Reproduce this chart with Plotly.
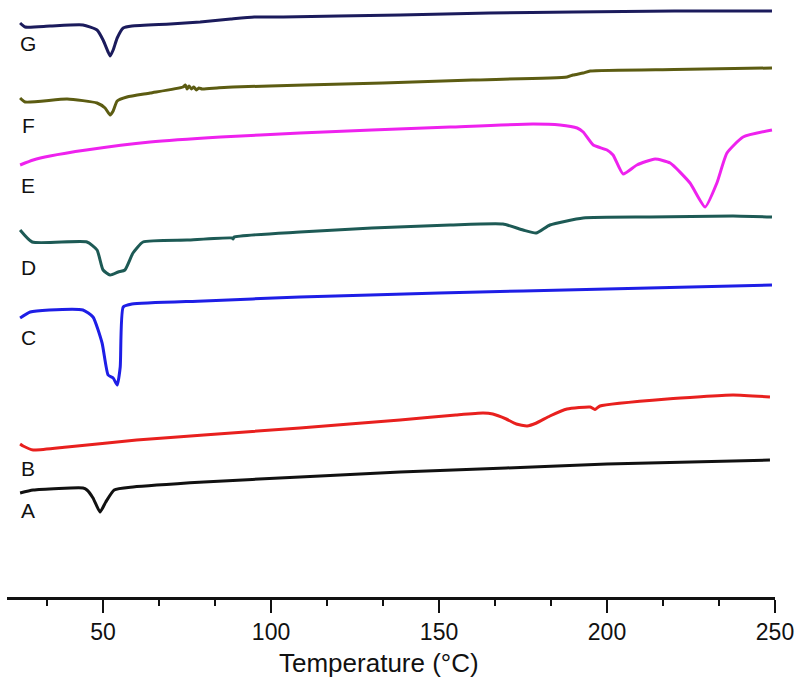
import plotly.graph_objects as go

# DSC traces, temperature in degC, heat flow in arbitrary units (offset per sample)
a_temp = [25.3, 29.2, 44.0, 45.2, 47.0, 49.1, 50.8, 53.3, 58.9, 80.0, 108.6, 138.4,
          170.0, 200.0, 248.5]
a_flow = [104, 107, 109, 107, 99, 85, 95, 107, 110, 115, 120, 125,
          129, 133, 137]

b_temp = [25.3, 26.2, 29.2, 39.3, 60.0, 80.0, 108.6, 138.4, 155.0, 163.1, 166.0, 170.0,
          173.0, 176.2, 179.0, 183.0, 188.1, 195.0, 196.4, 197.9, 217.9, 237.5, 248.5]
b_flow = [153, 151, 147, 150, 157, 162, 169, 177, 182, 184, 183, 178,
          173, 171, 174, 181, 188, 190, 187.5, 191, 198, 202, 200]

c_temp = [25.3, 28.3, 34.0, 44.0, 47.0, 49.7, 51.5, 53.0, 54.2, 55.1, 56.0, 58.6,
          80.0, 108.6, 150.0, 200.0, 249.1]
c_flow = [279, 285, 287, 287, 280, 254, 222, 219, 212, 230, 290, 293,
          296, 300, 304, 308, 312]

d_temp = [25.3, 28.9, 45.2, 48.2, 50.0, 52.1, 54.5, 56.5, 58.9, 61.9, 75.0, 88.4, 88.7,
          89.0, 108.6, 130.0, 153.3, 169.0, 175.0, 178.9, 183.0, 192.9, 212.8, 237.5, 249.1]
d_flow = [367, 355, 355, 347, 327, 322, 325, 327, 344, 355, 357, 359, 358,
          360, 365, 369, 372, 373, 367, 364, 372, 379, 380, 381, 380]

e_temp = [25.3, 29.2, 34.2, 45.0, 64.0, 85.0, 108.6, 130.0, 153.3, 178.0, 186.0, 191.1,
          192.9, 195.9, 200.0, 201.8, 204.8, 208.9, 214.3, 218.8, 224.7, 229.2, 232.7,
          235.7, 240.5, 249.1]
e_flow = [432, 437, 441, 447, 455, 460, 464, 467, 470, 473, 472, 469,
          465, 452, 447, 442, 423, 432, 438, 434, 414, 390, 414,
          444, 460, 467]

f_temp = [25.3, 26.8, 39.3, 48.2, 50.6, 52.1, 53.0, 54.2, 57.1, 64.0, 73.8, 74.5,
          75.0, 75.6, 76.3, 77.0, 77.8, 78.5, 79.5, 83.9, 88.7, 110.0, 133.3, 160.0,
          188.1, 189.9, 192.9, 195.0, 220.0, 249.1]
f_flow = [499, 495, 498, 494, 489, 482, 486, 496, 500, 504, 510, 512,
          508, 511, 508, 510, 507, 509, 508, 509, 510, 512, 514, 517,
          520, 522, 524, 526, 527.5, 529]

g_temp = [25.3, 26.8, 34.2, 44.0, 48.2, 50.0, 51.5, 52.1, 53.0, 54.2, 56.0, 58.6,
          70.0, 78.9, 88.0, 95.0, 103.6, 120.0, 138.4, 165.0, 189.9, 220.0, 249.1]
g_flow = [574, 570, 571, 572, 567, 557, 545, 541, 547, 559, 569, 571,
          573, 575, 578, 580, 580, 581, 582, 584, 585, 586, 586]

names = ["A", "B", "C", "D", "E", "F", "G"]
temps = [a_temp, b_temp, c_temp, d_temp, e_temp, f_temp, g_temp]
flows = [a_flow, b_flow, c_flow, d_flow, e_flow, f_flow, g_flow]
colors = ["#111111", "#e8201e", "#1e1ee6", "#1d5a55", "#ee22ee", "#5c5c12", "#1b1b5c"]
label_y = [87, 129, 260, 330, 412, 472, 554]

fig = go.Figure()
for name, t, f, c in zip(names, temps, flows, colors):
    fig.add_trace(go.Scatter(x=t, y=f, mode="lines", name=name,
                             line=dict(color=c, width=3, shape="spline", smoothing=0.5)))

for name, ly in zip(names, label_y):
    fig.add_annotation(x=27.7, y=ly, text=name, showarrow=False, xanchor="center",
                       yanchor="middle", font=dict(size=21, color="#111111"))

fig.add_annotation(x=0.484, y=-0.11, xref="paper", yref="paper", text="Temperature (°C)",
                   showarrow=False, xanchor="center", yanchor="middle",
                   font=dict(size=26, color="#111111"))

fig.update_layout(
    width=798,
    height=684,
    showlegend=False,
    plot_bgcolor="white",
    paper_bgcolor="white",
    font=dict(family="Liberation Sans, Arial, sans-serif", color="#111111"),
    margin=dict(l=7, r=23, t=0, b=87),
    xaxis=dict(
        range=[21.4, 250],
        showgrid=False,
        zeroline=False,
        showline=True,
        linecolor="#111111",
        linewidth=2.5,
        ticks="outside",
        ticklen=13,
        tickwidth=2,
        tickcolor="#111111",
        tick0=0,
        dtick=50,
        tickfont=dict(size=23),
        minor=dict(ticks="outside", ticklen=6, tickwidth=2, tickcolor="#111111",
                   tick0=0, dtick=50 / 3),
    ),
    yaxis=dict(range=[0, 597], visible=False),
)

fig.write_html("out.html", config={"displayModeBar": False},
               post_script="document.body.style.margin='0';")
